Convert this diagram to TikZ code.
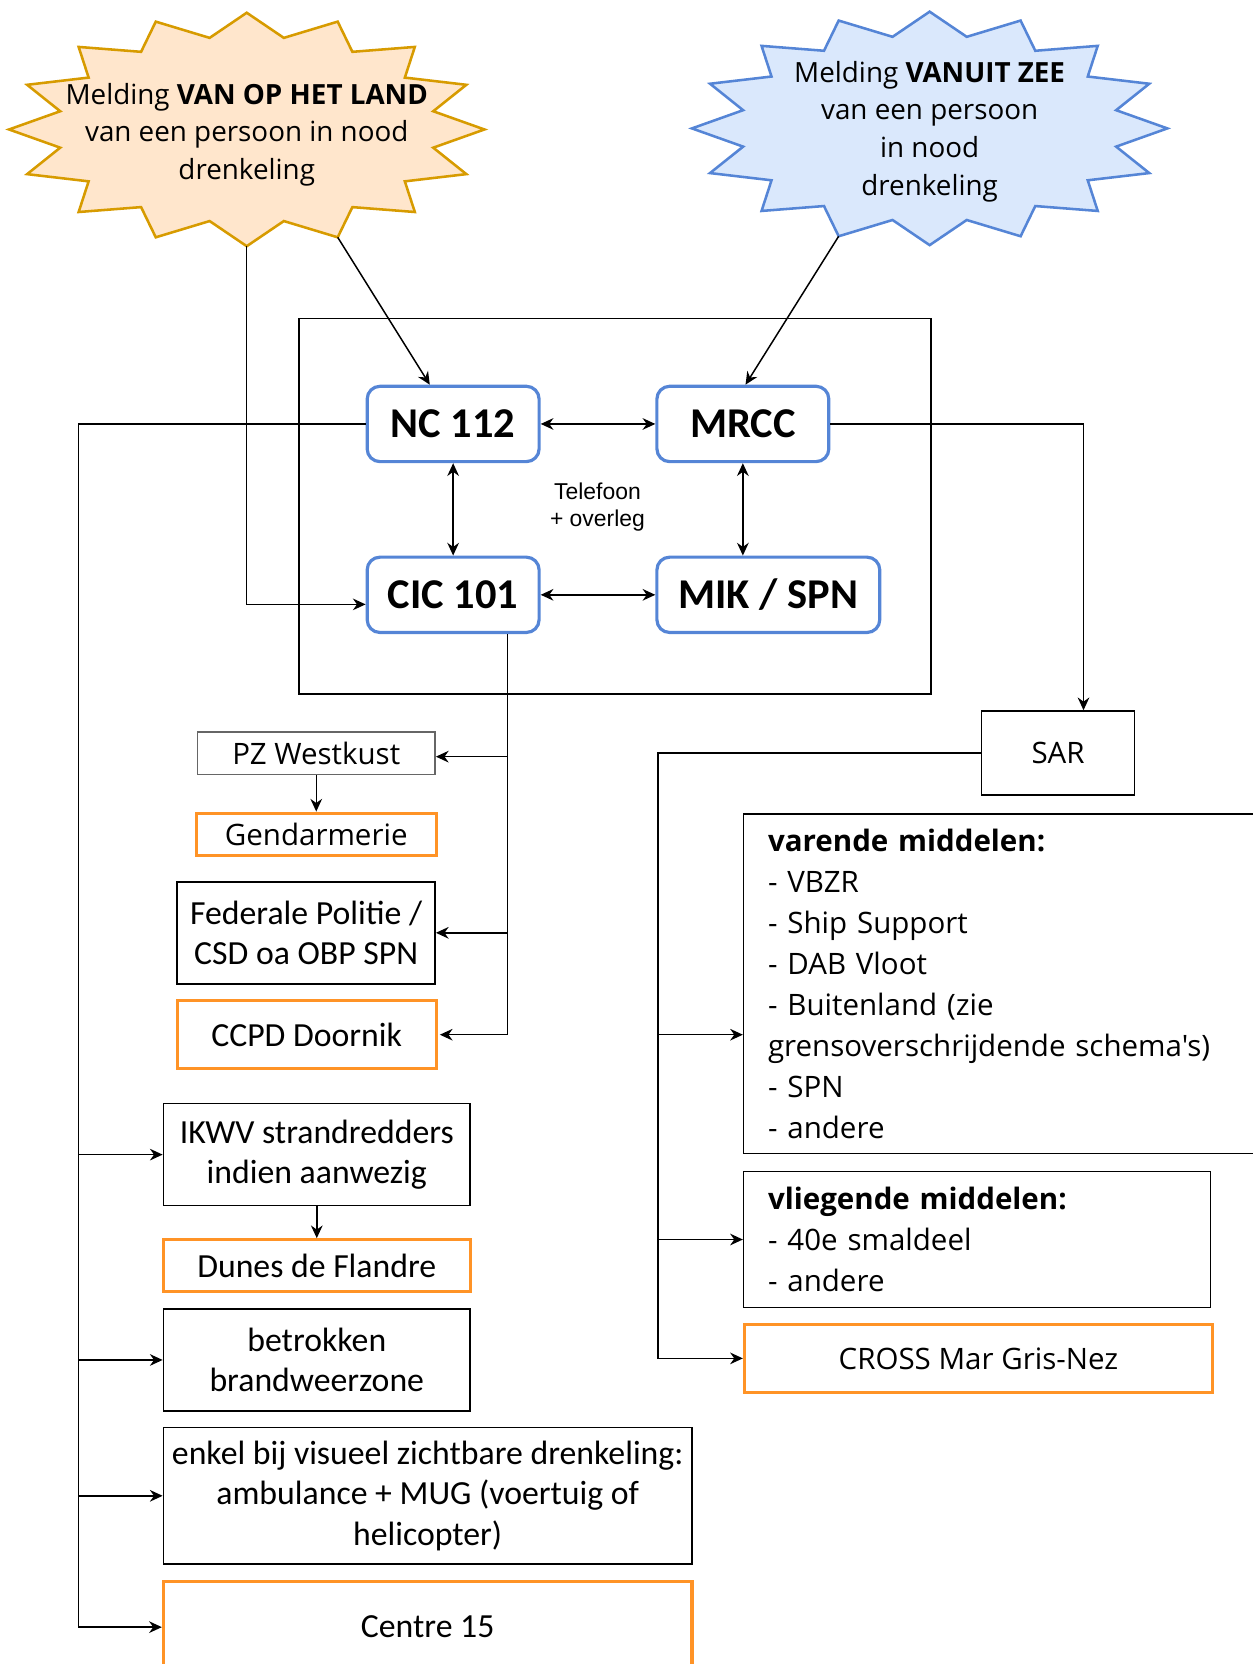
\documentclass[tikz,border=0pt]{standalone}
\usepackage{fontspec}
\setmainfont{Carlito}
\newfontfamily\segoe{Open Sans}
\newfontfamily\arialf{Liberation Sans}
\usepackage{tikz}
\usetikzlibrary{positioning}
\usetikzlibrary{arrows.meta}
\usetikzlibrary{calc}
\definecolor{landvul}{HTML}{FFE6CC}
\definecolor{landrand}{HTML}{D79B00}
\definecolor{zeevul}{HTML}{DAE8FC}
\definecolor{blauwrand}{HTML}{5585D6}
\definecolor{oranjerand}{HTML}{FF9326}
\definecolor{pzgrijs}{HTML}{666666}
\tikzset{land ster/.style={draw=landrand,fill=landvul,line width=1.2pt},
	zee ster/.style={draw=blauwrand,fill=zeevul,line width=1.2pt},
	centrale/.style={draw=blauwrand,line width=1.5pt,rounded corners=6pt,fill=white,minimum width=81pt,minimum height=35.5pt,inner sep=0pt,font=\fontsize{20}{24}\selectfont\bfseries},
	dienst/.style={draw,line width=0.75pt,fill=white,align=center,inner sep=0pt,font=\fontsize{15.9}{19}\selectfont},
	dienst os/.style={dienst,font=\segoe\fontsize{13.9}{19.3}\selectfont},
	frans/.style={draw=oranjerand,line width=1.5pt},
	lijst/.style={dienst os,align=left,inner xsep=11.5pt,inner ysep=0pt},
	verbinding/.style={-{Stealth[length=6pt,width=5.5pt]},line width=0.7pt},
	tweezijdig/.style={{Stealth[length=6pt,width=5.5pt]}-{Stealth[length=6pt,width=5.5pt]},line width=0.7pt},}
\begin{document}
\begin{tikzpicture}[x=0.5pt, y=-0.5pt]
	\useasboundingbox (0,0) rectangle (1180,1568);
	% meldingen
	\coordinate (land-c) at (232.5,122);
	\coordinate (zee-c) at (876,121);
	\foreach \c/\s in {land-c/land ster, zee-c/zee ster}
		\draw[\s] ($(\c)+(0,-110)$) \foreach \i in {0,...,15}{ -- ($(\c)+({179.2*cos(101.25+22.5*\i)},{-88*sin(101.25+22.5*\i)})$) -- ($(\c)+({224*cos(112.5+22.5*\i)},{-110*sin(112.5+22.5*\i)})$)} -- cycle;
	\node[align=center, font=\segoe\fontsize{13.1}{17.8}\selectfont] (land) at (232.5,127) {Melding \textbf{VAN OP HET LAND}\\van een persoon in nood\\drenkeling};
	\node[align=center, font=\segoe\fontsize{13.1}{17.8}\selectfont] (zee) at (876,124) {Melding \textbf{VANUIT ZEE}\\van een persoon\\in nood\\drenkeling};
	\coordinate (land-z) at ($(land-c)+(0,110)$);
	\coordinate (land-zo) at ($(land-c)+({224*cos(67.5)},{110*sin(67.5)})$);
	\coordinate (zee-zw) at ($(zee-c)+({-224*cos(67.5)},{110*sin(67.5)})$);

	% meldkamers
	\draw[line width=0.75pt] (282,300) rectangle (877,654);
	\node[centrale] (nc) at (427,399.5) {NC 112};
	\node[centrale] (mrcc) [right = 54pt of nc] {MRCC};
	\node[centrale] (cic) [below = 43.5pt of nc] {CIC 101};
	\node[centrale, minimum width=105pt] (mik) [right = 54pt of cic] {MIK / SPN};
	\node[align=center, font=\arialf\fontsize{10.8}{12.5}\selectfont] (tel) at (563,478) {Telefoon\\+ overleg};

	% land
	\node[dienst os, draw=pzgrijs, minimum width=112pt, minimum height=20pt] (pz) at (298,710) {PZ Westkust};
	\node[dienst os, frans, minimum width=113pt, minimum height=20pt] (gend) [below = 17pt of pz] {Gendarmerie};
	\node[dienst, minimum width=121.5pt, minimum height=48pt] (fed) at (288.5,879) {Federale Politie /\\CSD oa OBP SPN};
	\node[dienst, frans, minimum width=122pt, minimum height=32pt] (ccpd) at (289,975) {CCPD Doornik};
	\node[dienst, minimum width=144.5pt, minimum height=48pt] (ikwv) at (298.5,1088) {IKWV strandredders\\indien aanwezig};
	\node[dienst, frans, minimum width=144.5pt, minimum height=24.5pt] (dunes) [below = 15pt of ikwv] {Dunes de Flandre};
	\node[dienst, minimum width=144.5pt, minimum height=48pt] (brand) [below = 7pt of dunes] {betrokken\\brandweerzone};
	\node[dienst, minimum width=249pt, minimum height=64.5pt] (mug) at (403,1409.5) {enkel bij visueel zichtbare drenkeling:\\ambulance + MUG (voertuig of\\helicopter)};
	\node[dienst, frans, minimum width=249pt, minimum height=43pt] (c15) [below = 7pt of mug] {Centre 15};

	% zee
	\node[dienst os, minimum width=72pt, minimum height=39.5pt] (sar) at (997,709.5) {SAR};
	\node[lijst, text width=222pt, minimum height=160pt, anchor=west] (varende) at (700,927) {\textbf{varende middelen:}\\- VBZR\\- Ship Support\\- DAB Vloot\\- Buitenland (zie\\grensoverschrijdende schema's)\\- SPN\\- andere};
	\node[lijst, text width=197pt, minimum height=64pt, anchor=west] (vlieg) at (700,1168) {\textbf{vliegende middelen:}\\- 40e smaldeel\\- andere};
	\node[dienst os, frans, minimum width=220.5pt, minimum height=32pt, anchor=west] (cross) at (700,1280) {CROSS Mar Gris-Nez};

	\coordinate (links) at (74,399.5);
	\coordinate (rechts) at (620,709.5);
	\coordinate (cic-uit) at ([xshift=25.5pt]cic.south);

	\draw[verbinding] (land-zo) -- ([xshift=-11pt]nc.north);
	\draw[verbinding] (land-z) |- ([yshift=-4.5pt]cic.west);
	\draw[verbinding] (zee-zw) -- ([xshift=1.25pt]mrcc.north);
	\draw[tweezijdig] (nc) -- (mrcc);
	\draw[tweezijdig] (nc) -- (cic);
	\draw[tweezijdig] (mrcc) -- (mrcc.south |- mik.north);
	\draw[tweezijdig] (cic) -- (mik);
	\draw[verbinding] (mrcc.east) -| ([xshift=12pt]sar.north);
	\draw[verbinding] (cic-uit) |- ([yshift=-1.5pt]pz.east);
	\draw[verbinding] (cic-uit) |- (fed.east);
	\draw[verbinding] (cic-uit) |- ([xshift=1pt]ccpd.east);
	\draw[verbinding] (pz) -- (gend);
	\draw[verbinding] (ikwv) -- (dunes);
	\draw[line width=1.1pt] (nc.west) -- (links);
	\foreach \doel in {ikwv, brand, mug, c15}
		\draw[verbinding] (nc.west) -- (links) |- (\doel.west);
	\draw[verbinding] (sar.west) -- (rechts) |- ([yshift=-24pt]varende.west);
	\draw[verbinding] (sar.west) -- (rechts) |- (vlieg.west);
	\draw[verbinding] (sar.west) -- (rechts) |- (cross.west);
\end{tikzpicture}
\end{document}
